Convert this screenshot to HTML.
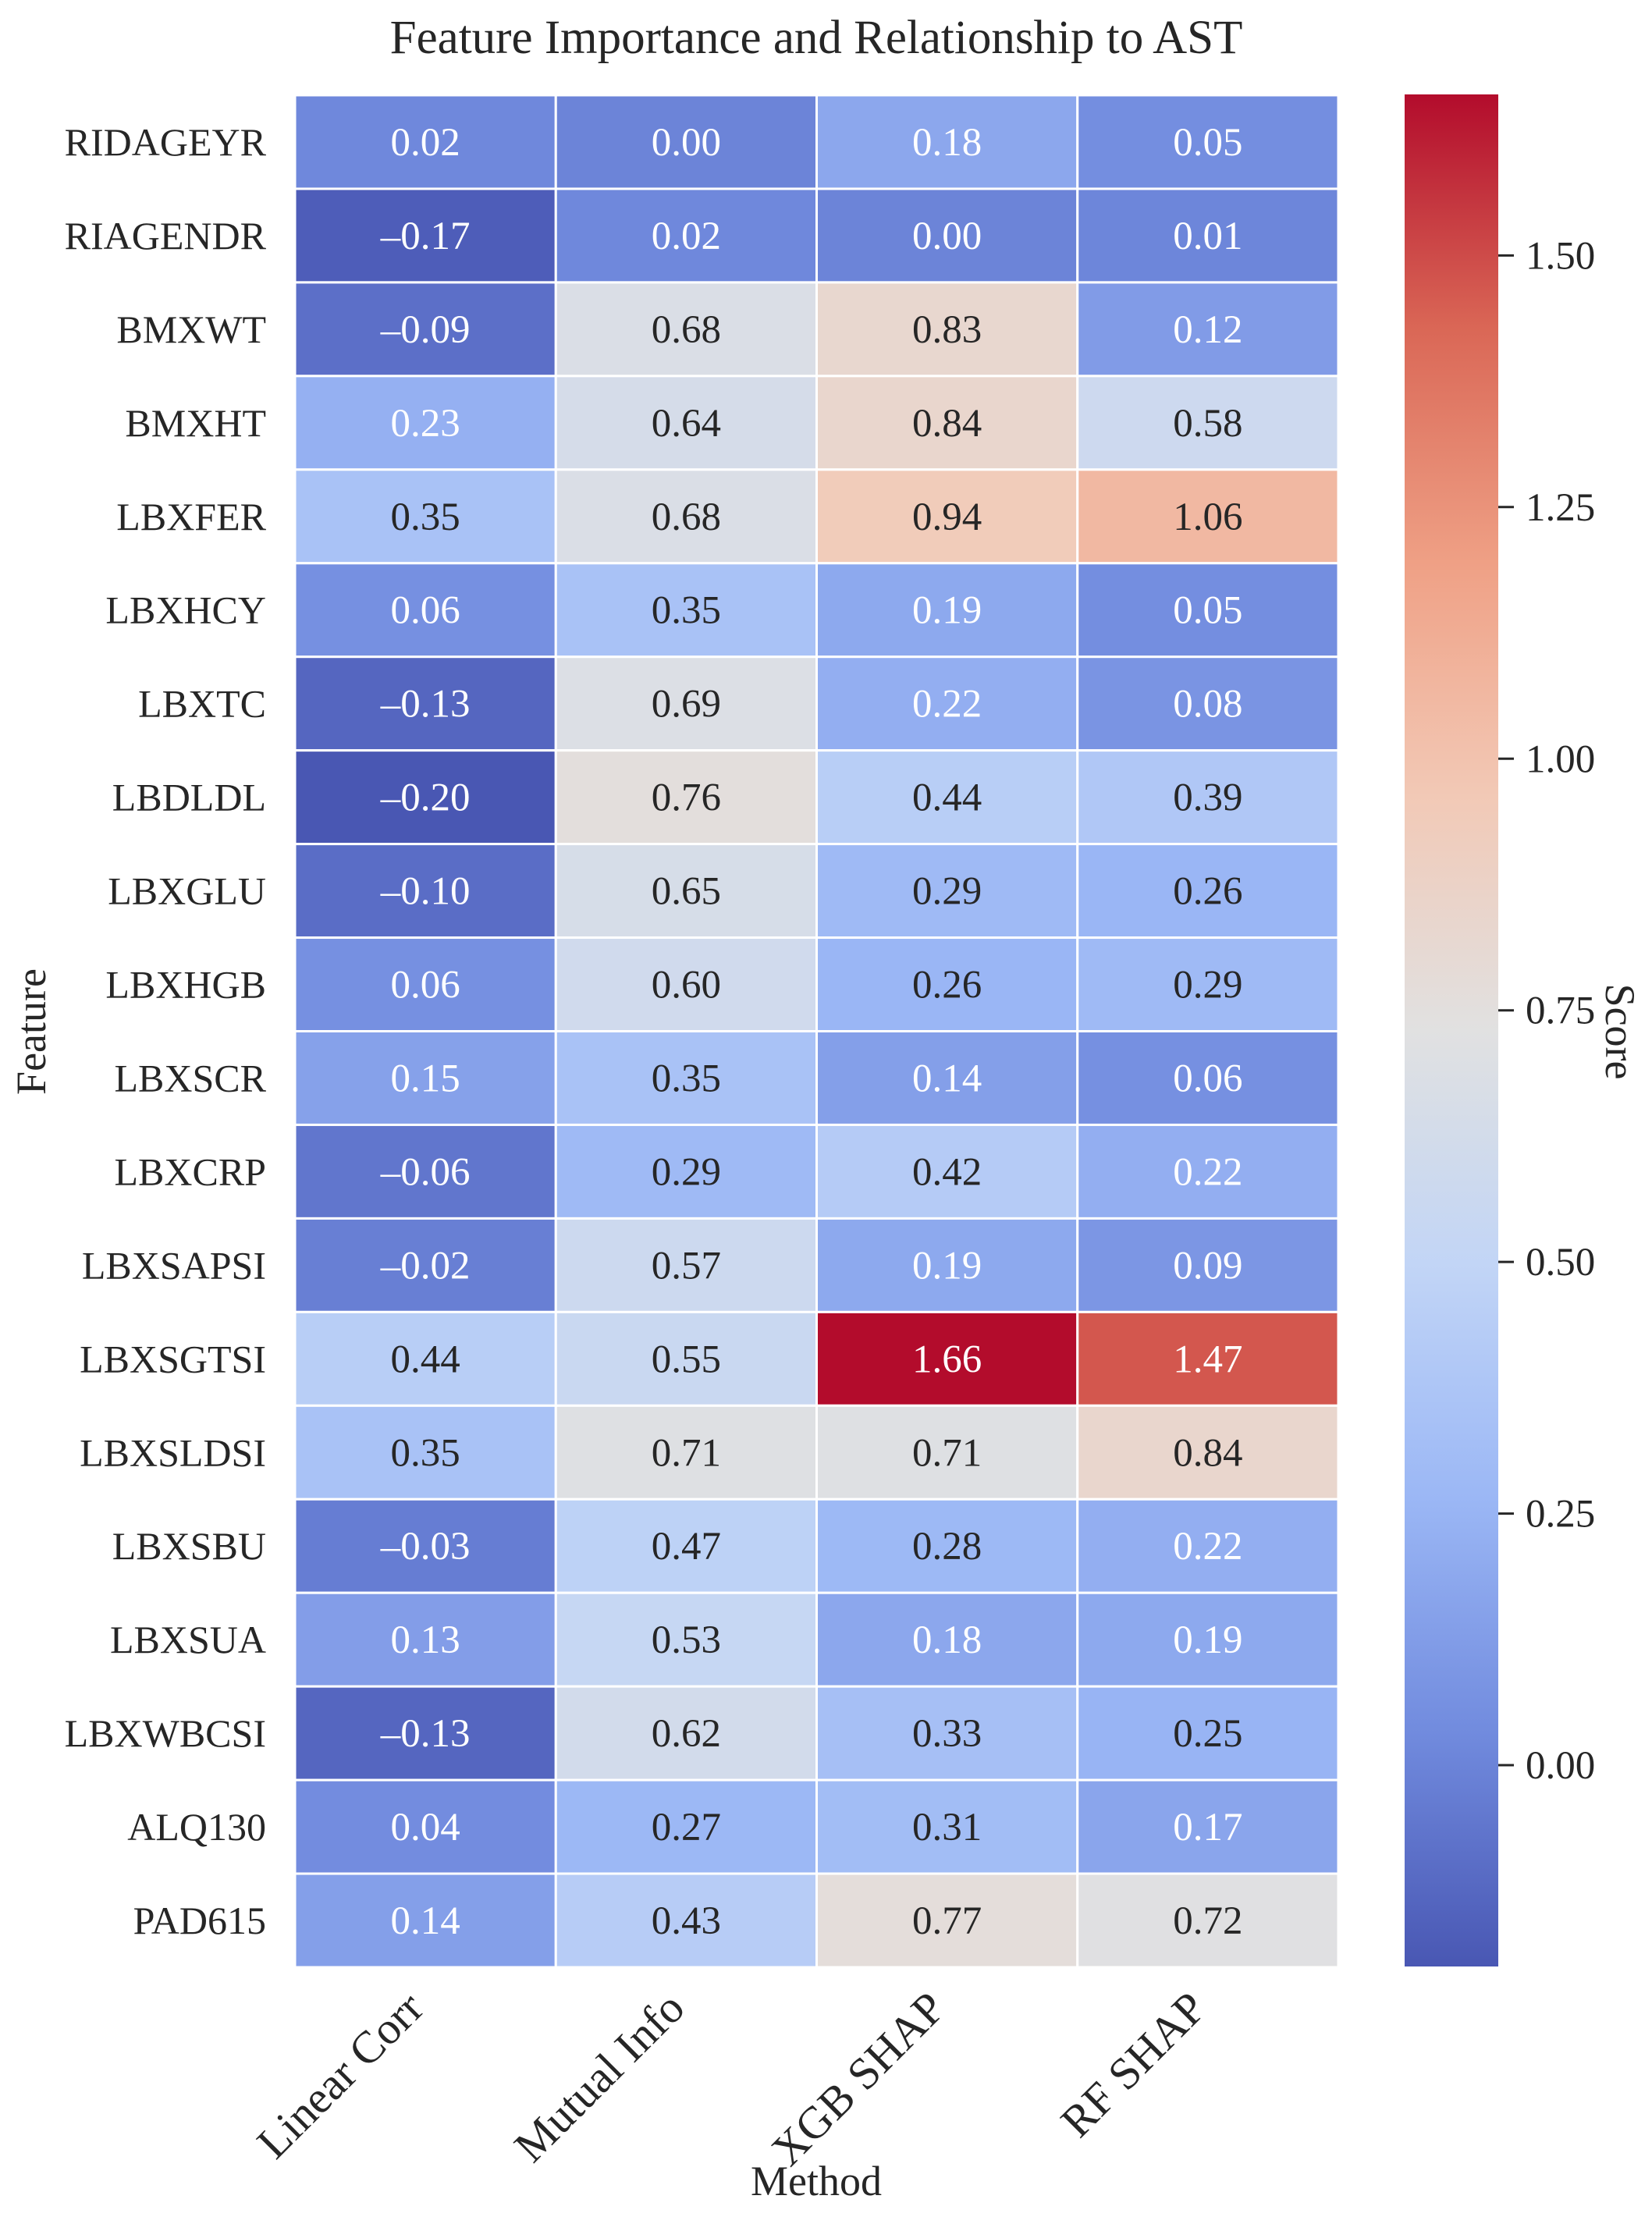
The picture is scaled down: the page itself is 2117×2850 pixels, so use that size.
<!DOCTYPE html>
<html><head><meta charset="utf-8"><style>
html,body{margin:0;padding:0;background:#fff;}
svg{display:block;font-family:"Liberation Serif","DejaVu Serif",serif;}
</style></head><body>
<svg id="chart" width="2117" height="2850" viewBox="0 0 2117 2850" xmlns="http://www.w3.org/2000/svg">
<defs><linearGradient id="cbgrad" x1="0" y1="1" x2="0" y2="0"></linearGradient></defs>
<text x="1046" y="68" font-size="61" text-anchor="middle" fill="#262626">Feature Importance and Relationship to AST</text>
<g id="cells"></g>
<g id="ylabels"></g>
<g id="xlabels"></g>
<text x="1046" y="2813" font-size="54" text-anchor="middle" fill="#262626">Method</text>
<text transform="translate(58,1322) rotate(-90)" font-size="54" text-anchor="middle" fill="#262626">Feature</text>
<rect x="1800" y="121" width="120" height="2399" fill="url(#cbgrad)"/>
<g id="cbticks"></g>
<text transform="translate(2058,1322) rotate(90)" font-size="54" text-anchor="middle" fill="#262626">Score</text>
</svg>
<script>
const features = ["RIDAGEYR","RIAGENDR","BMXWT","BMXHT","LBXFER","LBXHCY","LBXTC","LBDLDL","LBXGLU","LBXHGB","LBXSCR","LBXCRP","LBXSAPSI","LBXSGTSI","LBXSLDSI","LBXSBU","LBXSUA","LBXWBCSI","ALQ130","PAD615"];
const methods = ["Linear Corr","Mutual Info","XGB SHAP","RF SHAP"];
const linearCorr = [0.02,-0.17,-0.09,0.23,0.35,0.06,-0.13,-0.20,-0.10,0.06,0.15,-0.06,-0.02,0.44,0.35,-0.03,0.13,-0.13,0.04,0.14];
const mutualInfo = [0.00,0.02,0.68,0.64,0.68,0.35,0.69,0.76,0.65,0.60,0.35,0.29,0.57,0.55,0.71,0.47,0.53,0.62,0.27,0.43];
const xgbShap = [0.18,0.00,0.83,0.84,0.94,0.19,0.22,0.44,0.29,0.26,0.14,0.42,0.19,1.66,0.71,0.28,0.18,0.33,0.31,0.77];
const rfShap = [0.05,0.01,0.12,0.58,1.06,0.05,0.08,0.39,0.26,0.29,0.06,0.22,0.09,1.47,0.84,0.22,0.19,0.25,0.17,0.72];
const colorTicks = [0.00,0.25,0.50,0.75,1.00,1.25,1.50];
const vmin = -0.20, vmax = 1.66;

const NS = "http://www.w3.org/2000/svg";
const X0 = 378, X1 = 1715, Y0 = 122, Y1 = 2521;
const cw = (X1 - X0) / methods.length, ch = (Y1 - Y0) / features.length;
const xPos = i => X0 + i * cw;
const yPos = j => Y0 + j * ch;
const CB_TOP = 121, CB_BOT = 2520;
const cbY = v => CB_BOT - (v - vmin) / (vmax - vmin) * (CB_BOT - CB_TOP);

const cmap = [[59,76,192],[98,130,234],[141,176,254],[184,208,249],[221,221,221],[245,196,173],[244,154,123],[222,96,77],[180,4,38]];
function rawColor(t){
  t = Math.max(0, Math.min(1, t));
  const p = t * 8, i = Math.min(7, Math.floor(p)), f = p - i;
  const a = cmap[i], b = cmap[i+1];
  return a.map((c,k)=>c + (b[k]-c)*f);
}
function wash(c, t){
  const g = (c[0]+c[1]+c[2])/3;
  const w = t < 0.5 ? 0.2 : 0.2 - (t-0.5)*0.3;
  return c.map(x=>Math.round(Math.min(255, x*(1-w) + g*w + 4)));
}
function color(v){ const t = (v - vmin) / (vmax - vmin); return wash(rawColor(t), t); }
function lum(rgb){
  const l = rgb.map(c=>{c/=255;return c<=0.03928?c/12.92:Math.pow((c+0.055)/1.055,2.4);});
  return 0.2126*l[0]+0.7152*l[1]+0.0722*l[2];
}
function mk(tag, attrs, parent){
  const e = document.createElementNS(NS, tag);
  for (const k in attrs) e.setAttribute(k, attrs[k]);
  parent.appendChild(e); return e;
}
const series = [linearCorr, mutualInfo, xgbShap, rfShap];
const cells = document.getElementById("cells");
series.forEach((arr, i) => {
  arr.forEach((v, j) => {
    const rgb = color(v);
    const raw = rawColor((v - vmin) / (vmax - vmin)).map(Math.round);
    const r = mk("rect", {x: xPos(i), y: yPos(j), width: cw, height: ch, fill: `rgb(${rgb.join(",")})`, stroke: "#fff", "stroke-width": 3}, cells);
    
    
    const t = mk("text", {x: xPos(i) + cw/2, y: yPos(j) + ch/2 + 17, "font-size": 51, "text-anchor": "middle", fill: lum(raw) > 0.408 ? "#262626" : "#ffffff"}, cells);
    t.textContent = v.toFixed(2).replace("-", "\u2013");
    
    
  });
});
const yl = document.getElementById("ylabels");
features.forEach((f, j) => {
  const t = mk("text", {x: 341, y: yPos(j) + ch/2 + 17, "font-size": 50, "text-anchor": "end", fill: "#262626"}, yl);
  t.textContent = f;
  
  
});
const xl = document.getElementById("xlabels");
methods.forEach((m, i) => {
  const cx = xPos(i) + cw/2 - 28, cy = 2548;
  const t = mk("text", {transform: `translate(${cx},${cy}) rotate(-45)`, "font-size": 58, "text-anchor": "end", fill: "#262626", dy: "0.7em"}, xl);
  t.textContent = m;
  
  
});
const grad = document.getElementById("cbgrad");
for (let k = 0; k <= 16; k++) {
  const c = wash(rawColor(k/16), k/16);
  mk("stop", {offset: (k/16*100) + "%", "stop-color": `rgb(${c.join(",")})`}, grad);
}
const cbt = document.getElementById("cbticks");
colorTicks.forEach(v => {
  const y = cbY(v);
  const l = mk("line", {x1: 1920, x2: 1940, y1: y, y2: y, stroke: "#262626", "stroke-width": 3}, cbt);
  
  
  const t = mk("text", {x: 1955, y: y + 17, "font-size": 51, fill: "#262626"}, cbt);
  t.textContent = v.toFixed(2);
  
  
});
</script>
</body></html>
